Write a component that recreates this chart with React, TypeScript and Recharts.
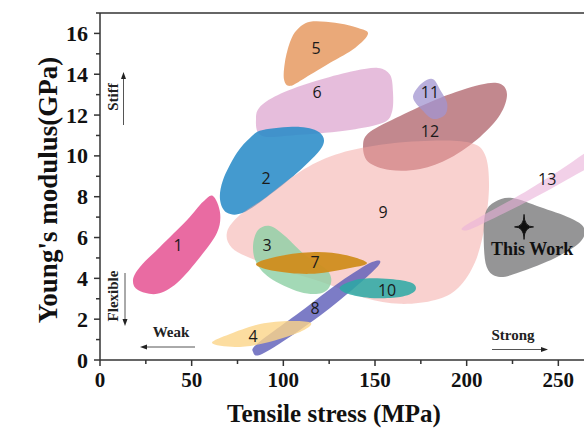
import React from 'react';
import { ScatterChart, Scatter, XAxis, YAxis, ReferenceLine, Customized } from 'recharts';

type P = [number, number];

// Blob outlines in data units (Tensile stress MPa, Young's modulus GPa)
const blob1: P[] = [[61.6, 8.04], [65.5, 7.21], [63.8, 6.23], [54.6, 5.05], [42.0, 3.77], [31.1, 3.24], [20.7, 3.43], [18.0, 3.92], [21.8, 4.56], [32.7, 5.54], [47.5, 6.86], [56.2, 7.75]];
const blob2: P[] = [[88.9, 11.27], [109.1, 11.42], [120.0, 11.13], [121.1, 10.44], [107.5, 9.17], [91.1, 7.99], [78.0, 7.21], [69.3, 7.21], [65.5, 7.84], [67.1, 8.82], [74.7, 10.15], [81.8, 10.88]];
const blob3: P[] = [[86.2, 6.37], [83.5, 5.64], [85.1, 4.8], [92.7, 4.02], [109.1, 3.33], [121.1, 3.28], [126.0, 3.77], [123.8, 4.41], [111.8, 5.15], [100.9, 6.08], [92.7, 6.57]];
const blob4: P[] = [[61.1, 0.83], [70.9, 1.27], [87.3, 1.76], [103.7, 1.91], [115.1, 1.81], [109.1, 1.37], [90.0, 0.83], [73.6, 0.64]];
const blob5: P[] = [[107.5, 16.18], [114.6, 16.57], [128.2, 16.52], [140.8, 16.27], [146.2, 15.98], [139.1, 15.29], [125.5, 14.56], [111.8, 13.82], [103.7, 13.43], [100.4, 13.73], [100.9, 14.61], [103.7, 15.59]];
const blob6: P[] = [[85.1, 11.86], [88.4, 12.5], [100.9, 13.14], [120.0, 13.73], [139.1, 14.17], [151.7, 14.31], [158.2, 13.97], [159.8, 13.14], [159.3, 12.16], [154.4, 11.62], [136.4, 11.27], [109.1, 11.03], [88.4, 10.98]];
const blob7: P[] = [[85.1, 4.71], [98.2, 5.1], [117.3, 5.29], [133.7, 5.15], [145.7, 4.75], [133.7, 4.46], [114.6, 4.22], [95.5, 4.36]];
const blob8: P[] = [[148.4, 4.8], [151.7, 4.61], [130.9, 2.94], [109.1, 1.47], [88.4, 0.29], [83.5, 0.39], [86.2, 0.83], [109.1, 2.35], [130.9, 3.82]];
const blob9: P[] = [[69.3, 6.27], [76.4, 7.11], [90.0, 7.94], [109.1, 9.22], [128.2, 10.05], [152.8, 10.54], [180.0, 10.74], [201.9, 10.64], [210.0, 10.05], [212.2, 8.58], [210.0, 6.62], [204.6, 4.8], [195.3, 3.53], [182.8, 2.94], [163.7, 2.75], [144.6, 3.04], [125.5, 3.68], [103.7, 4.31], [84.6, 4.9], [72.0, 5.49]];
const blob10: P[] = [[130.9, 3.58], [141.8, 3.97], [158.2, 3.97], [170.2, 3.77], [171.8, 3.38], [163.7, 3.09], [147.3, 3.04], [135.3, 3.24]];
const blob11: P[] = [[178.4, 13.73], [182.2, 13.73], [185.5, 13.24], [189.3, 12.6], [188.2, 12.01], [181.7, 11.81], [175.7, 12.25], [170.8, 12.84], [173.5, 13.38]];
const blob12: P[] = [[143.5, 10.54], [147.3, 11.18], [163.7, 11.96], [185.5, 12.84], [207.3, 13.48], [218.2, 13.53], [222.0, 12.99], [218.2, 12.01], [207.3, 10.93], [190.9, 9.9], [174.6, 9.36], [158.2, 9.31], [146.2, 9.71]];
const blob13: P[] = [[197.5, 6.47], [207.3, 7.01], [229.1, 8.09], [251.0, 9.31], [267.3, 10.29], [272.8, 10.39], [272.8, 9.8], [256.4, 8.92], [234.6, 7.84], [212.8, 6.86], [200.8, 6.37]];
const blobThisWork: P[] = [[210.0, 7.11], [215.5, 7.75], [224.8, 7.94], [240.0, 7.5], [256.4, 6.96], [264.0, 6.47], [261.9, 5.78], [248.2, 5.0], [229.1, 4.31], [218.2, 4.07], [211.7, 4.41], [209.5, 5.39]];

const starPoint: P[] = [[231.3, 6.52]];
const thisWorkLabel: P[] = [[235.7, 5.44]];

const labelNames = ['1', '2', '3', '4', '5', '6', '7', '8', '9', '10', '11', '12', '13'];
const labelX = [42.6, 90.6, 91.1, 83.5, 117.8, 118.4, 117.3, 117.3, 154.4, 156.6, 180.0, 180.0, 243.9];
const labelY = [5.64, 8.92, 5.64, 1.18, 15.29, 13.14, 4.8, 2.55, 7.25, 3.43, 13.14, 11.23, 8.87];

const xTicks = [0, 25, 50, 75, 100, 125, 150, 175, 200, 225, 250];
const xLabeled = [0, 50, 100, 150, 200, 250];
const yTicks = [0, 1, 2, 3, 4, 5, 6, 7, 8, 9, 10, 11, 12, 13, 14, 15, 16, 17];
const yLabeled = [0, 2, 4, 6, 8, 10, 12, 14, 16];

const toData = (pts: P[]) => pts.map(([x, y]) => ({ x, y }));
const labelData = labelNames.map((label, i) => ({ x: labelX[i], y: labelY[i], label }));

function closedPath(pts: { x: number; y: number }[]): string {
  const n = pts.length;
  if (!n) return '';
  let d = `M${pts[0].x},${pts[0].y}`;
  for (let i = 0; i < n; i++) {
    const p0 = pts[(i - 1 + n) % n];
    const p1 = pts[i];
    const p2 = pts[(i + 1) % n];
    const p3 = pts[(i + 2) % n];
    const c1x = p1.x + (p2.x - p0.x) / 6;
    const c1y = p1.y + (p2.y - p0.y) / 6;
    const c2x = p2.x - (p3.x - p1.x) / 6;
    const c2y = p2.y - (p3.y - p1.y) / 6;
    d += `C${c1x},${c1y} ${c2x},${c2y} ${p2.x},${p2.y}`;
  }
  return d + 'Z';
}

const blobLine = (color: string, opacity: number) => (props: any) => {
  const pts = props && props.points ? props.points : [];
  if (!pts.length) return <g />;
  return <path d={closedPath(pts)} fill={color} fillOpacity={opacity} stroke="none" />;
};

const Empty = () => <g />;

const SERIF = '"Liberation Serif", "Times New Roman", serif';

const XTick = (props: any) => {
  const { x, y, payload } = props;
  const major = xLabeled.includes(payload.value);
  const top = y - 6;
  return (
    <g>
      <line x1={x} x2={x} y1={top} y2={top + (major ? 6 : 4)} stroke="#333" strokeWidth={1.5} />
      {major && (
        <text x={x} y={top + 27} textAnchor="middle" fontFamily={SERIF} fontWeight="bold" fontSize={21} fill="#111">
          {payload.value}
        </text>
      )}
    </g>
  );
};

const YTick = (props: any) => {
  const { x, y, payload } = props;
  const major = yLabeled.includes(payload.value);
  const axisX = x + 6;
  return (
    <g>
      <line x1={axisX - (major ? 6 : 4)} x2={axisX} y1={y} y2={y} stroke="#333" strokeWidth={1.5} />
      {major && (
        <text x={axisX - 12} y={y + 7.5} textAnchor="end" fontFamily={SERIF} fontWeight="bold" fontSize={22} fill="#111">
          {payload.value}
        </text>
      )}
    </g>
  );
};

const LabelShape = (props: any) => {
  const { cx, cy, payload } = props;
  return (
    <text x={cx} y={cy} textAnchor="middle" dominantBaseline="central" fontFamily='"Open Sans", "Noto Sans", sans-serif' fontSize={16} fill="#1a1a1a">
      {payload.label}
    </text>
  );
};

const StarShape = (props: any) => {
  const { cx, cy } = props;
  const w = 9.5;
  const h = 12.5;
  const d = `M${cx},${cy - h} Q${cx},${cy} ${cx + w},${cy} Q${cx},${cy} ${cx},${cy + h} Q${cx},${cy} ${cx - w},${cy} Q${cx},${cy} ${cx},${cy - h}Z`;
  return <path d={d} fill="#111" stroke="#111" strokeWidth={0.9} />;
};

const ThisWorkShape = (props: any) => {
  const { cx, cy } = props;
  return (
    <text x={cx} y={cy} textAnchor="middle" dominantBaseline="central" fontFamily={SERIF} fontWeight="bold" fontSize={18} fill="#111">
      This Work
    </text>
  );
};

const Annotations = () => {
  const ann = { fontFamily: SERIF, fontWeight: 'bold' as const, fontSize: 15, fill: '#222' };
  const lc = '#555';
  return (
    <g>
      {/* Stiff */}
      <text {...ann} transform="translate(118,97) rotate(-90)" textAnchor="middle">Stiff</text>
      <line x1={123.5} y1={125} x2={123.5} y2={77} stroke={lc} strokeWidth={1} />
      <polygon points="123.5,72 121,79 126,79" fill="#222" />
      {/* Flexible */}
      <text {...ann} transform="translate(118,296) rotate(-90)" textAnchor="middle">Flexible</text>
      <line x1={125} y1={273} x2={125} y2={320} stroke={lc} strokeWidth={1} />
      <polygon points="125,326 122.5,319 127.5,319" fill="#222" />
      {/* Weak */}
      <text {...ann} x={171} y={337} textAnchor="middle">Weak</text>
      <line x1={195} y1={347} x2={145} y2={347} stroke={lc} strokeWidth={1} />
      <polygon points="140,347 147,344.5 147,349.5" fill="#222" />
      {/* Strong */}
      <text {...ann} x={513} y={340} textAnchor="middle">Strong</text>
      <line x1={492} y1={349.5} x2={542} y2={349.5} stroke={lc} strokeWidth={1} />
      <polygon points="548,349.5 541,347 541,352" fill="#222" />
      {/* Axis titles */}
      <text x={334} y={422} textAnchor="middle" fontFamily={SERIF} fontWeight="bold" fontSize={25} fill="#111">
        Tensile stress (MPa)
      </text>
      <text transform="translate(57,190) rotate(-90)" textAnchor="middle" fontFamily={SERIF} fontWeight="bold" fontSize={27} fill="#111">
        Young's modulus(GPa)
      </text>
    </g>
  );
};

const blobs: { data: P[]; color: string; opacity: number }[] = [
  { data: blob6, color: '#dea7d0', opacity: 0.75 },
  { data: blob5, color: '#e69a62', opacity: 0.85 },
  { data: blob2, color: '#2a8cc8', opacity: 0.88 },
  { data: blob1, color: '#e8669f', opacity: 0.97 },
  { data: blob12, color: '#a8555e', opacity: 0.7 },
  { data: blob11, color: '#a294d0', opacity: 0.75 },
  { data: blob9, color: '#f4a3a0', opacity: 0.5 },
  { data: blob3, color: '#8ccfa4', opacity: 0.8 },
  { data: blob7, color: '#d08d1e', opacity: 0.95 },
  { data: blob8, color: '#5b5bb8', opacity: 0.8 },
  { data: blob10, color: '#2aa9a4', opacity: 0.85 },
  { data: blob4, color: '#fbd488', opacity: 0.8 },
  { data: blobThisWork, color: '#7a7a7c', opacity: 0.8 },
  { data: blob13, color: '#e9b1d9', opacity: 0.6 },
];

export default function App() {
  return (
    <div style={{ width: 584, height: 430, background: '#fff' }}>
      <style>{'body{margin:0;}'}</style>
      <ScatterChart width={584} height={430} margin={{ top: 13, right: 0, bottom: 0, left: 0 }}>
        <XAxis
          type="number"
          dataKey="x"
          domain={[0, 264]}
          allowDataOverflow
          ticks={xTicks}
          interval={0}
          height={70}
          tickSize={6}
          tickMargin={0}
          tickLine={false}
          tick={<XTick />}
          axisLine={{ stroke: '#333', strokeWidth: 1.5 }}
        />
        <YAxis
          type="number"
          dataKey="y"
          domain={[0, 17]}
          allowDataOverflow
          ticks={yTicks}
          interval={0}
          width={100}
          tickSize={6}
          tickMargin={0}
          tickLine={false}
          tick={<YTick />}
          axisLine={{ stroke: '#333', strokeWidth: 1.5 }}
        />
        <ReferenceLine y={17} stroke="#333" strokeWidth={1.5} ifOverflow="visible" />
        {blobs.map((b, i) => (
          <Scatter
            key={i}
            data={toData(b.data)}
            fill={b.color}
            line={blobLine(b.color, b.opacity)}
            shape={Empty}
            isAnimationActive={false}
          />
        ))}
        <Scatter data={labelData} shape={LabelShape} isAnimationActive={false} />
        <Scatter data={toData(starPoint)} shape={StarShape} isAnimationActive={false} />
        <Scatter data={toData(thisWorkLabel)} shape={ThisWorkShape} isAnimationActive={false} />
        <Customized component={Annotations} />
      </ScatterChart>
    </div>
  );
}
